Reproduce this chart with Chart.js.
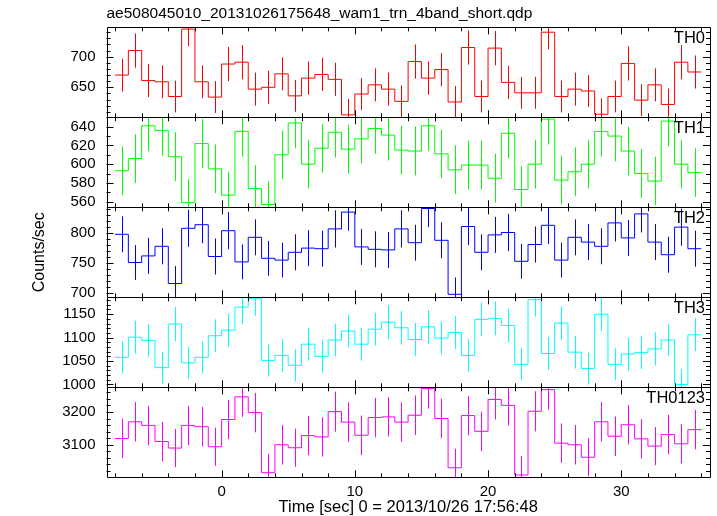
<!DOCTYPE html>
<html><head><meta charset="utf-8">
<script src="https://cdn.jsdelivr.net/npm/chart.js@4.4.1/dist/chart.umd.min.js"></script>
<style>html,body{margin:0;padding:0;background:#fff;}#wrap{width:717px;height:516px;position:relative;}</style>
</head><body><div id="wrap"><canvas id="c" width="717" height="516"></canvas></div>
<script>
// ---- data ----
const timeCenters = [-7.5,-6.5,-5.5,-4.5,-3.5,-2.5,-1.5,-0.5,0.5,1.5,2.5,3.5,4.5,5.5,6.5,7.5,8.5,9.5,10.5,11.5,12.5,13.5,14.5,15.5,16.5,17.5,18.5,19.5,20.5,21.5,22.5,23.5,24.5,25.5,26.5,27.5,28.5,29.5,30.5,31.5,32.5,33.5,34.5,35.5];
const binHalfWidth = 0.5;
const th0 = [670,710,661,659,635,745,659,634,688,691,647,650,672,636,665,671,663,605,639,654,647,627,692,665,679,626,715,635,714,658,641,641,740,635,647,644,606,635,689,629,654,622,691,675];
const th0Err = [27,28,27,27,26,28,27,26,28,28,27,27,27,26,27,27,27,26,26,27,27,26,28,27,27,26,28,26,28,27,26,26,28,26,27,26,26,26,28,26,27,26,28,27];
const th1 = [593,606,641,636,608,559,622,595,567,635,574,557,610,644,600,617,634,616,627,638,631,615,614,641,611,594,599,599,585,633,573,600,648,583,592,600,635,630,614,590,582,646,600,591];
const th1Err = [26,26,27,27,26,25,26,26,25,27,25,25,26,27,26,26,27,26,26,27,27,26,26,27,26,26,26,26,26,27,25,26,27,26,26,26,27,27,26,26,26,27,26,26];
const th2 = [798,751,762,778,716,808,814,761,804,752,793,758,755,768,775,774,807,835,777,773,772,807,784,841,788,698,811,768,797,801,753,781,813,755,793,785,778,817,792,832,785,764,810,774];
const th2Err = [30,29,30,30,29,31,31,30,31,29,30,29,29,30,30,30,31,31,30,30,30,31,30,31,30,28,31,30,30,31,29,30,31,29,30,30,30,31,30,31,30,30,31,30];
const th3 = [1058,1101,1094,1036,1129,1046,1058,1104,1116,1165,1183,1051,1062,1041,1086,1060,1095,1114,1086,1118,1133,1121,1096,1123,1099,1111,1062,1139,1141,1126,1043,1181,1066,1131,1069,1034,1150,1043,1065,1068,1076,1095,1000,1106];
const th3Err = [34,35,35,34,36,34,34,35,35,36,36,34,35,34,35,35,35,35,35,35,36,36,35,36,35,35,35,36,36,36,34,36,35,36,35,34,36,34,35,35,35,35,33,35];
const th0123 = [3119,3170,3159,3110,3090,3159,3155,3094,3177,3246,3198,3015,3100,3091,3128,3124,3201,3169,3129,3183,3185,3169,3190,3271,3180,3030,3189,3141,3238,3220,3008,3202,3268,3105,3100,3062,3170,3126,3161,3118,3096,3131,3103,3146];
const th0123Err = [60,60,60,60,58,60,60,58,60,61,60,58,60,58,60,60,61,60,60,60,60,60,60,61,60,58,60,60,61,61,58,61,61,60,60,58,60,60,60,60,58,60,60,60];
const panelNames = ['TH0','TH1','TH2','TH3','TH0123'];
const xTickLabels = [0,10,20,30];
const th0Ticks = [650,700];
const th1Ticks = [560,580,600,620,640];
const th2Ticks = [700,750,800];
const th3Ticks = [1000,1050,1100,1150];
const th0123Ticks = [3100,3200];

// ---- styling / layout ----
const FONT = 'Liberation Sans, Arial, Helvetica, sans-serif';
const panels = [
  {id:'y0', values:th0, errors:th0Err, ticks:th0Ticks, color:'#ff0000', min:601, max:748, major:50, minor:10},
  {id:'y1', values:th1, errors:th1Err, ticks:th1Ticks, color:'#00ff00', min:554, max:650, major:20, minor:10},
  {id:'y2', values:th2, errors:th2Err, ticks:th2Ticks, color:'#0000ff', min:693, max:843, major:50, minor:10},
  {id:'y3', values:th3, errors:th3Err, ticks:th3Ticks, color:'#00ffff', min:994, max:1186, major:50, minor:10},
  {id:'y4', values:th0123, errors:th0123Err, ticks:th0123Ticks, color:'#ff00ff', min:3001, max:3275, major:100, minor:20}
];
const X_MIN = -8.64, X_MAX = 36.66;

function stepData(values){
  const pts = timeCenters.map((t,i)=>({x:t-binHalfWidth, y:values[i]}));
  const n = timeCenters.length-1;
  pts.push({x:timeCenters[n]+binHalfWidth, y:values[n]});
  return pts;
}

const datasets = panels.map((p,i)=>({
  label: panelNames[i], data: stepData(p.values), yAxisID: p.id, xAxisID:'x',
  borderColor: p.color, backgroundColor: p.color, borderWidth: 1, pointRadius: 0,
  stepped: 'before', fill: false, tension: 0, errors: p.errors, values: p.values
}));

const scales = {
  x: {type:'linear', position:'bottom', min:X_MIN, max:X_MAX,
      afterBuildTicks: s => { s.ticks = xTickLabels.map(v=>({value:v})); },
      grid:{display:false, drawTicks:false}, border:{display:false},
      ticks:{color:'#000', font:{family:FONT, size:15}, padding:6, maxRotation:0, autoSkip:false, callback:v=>String(v)},
      title:{display:true, text:'Time [sec] 0 = 2013/10/26 17:56:48', color:'#000', font:{family:FONT, size:16.5, lineHeight:1}, padding:{top:0,bottom:0}},
      afterFit: s => { s.height = 38.7; }
  }
};
panels.forEach((p,i)=>{
  scales[p.id] = {
    type:'linear', position:'left', stack:'panels', stackWeight:1, weight: 5-i,
    min:p.min, max:p.max,
    afterBuildTicks: s => { s.ticks = p.ticks.map(v=>({value:v})); },
    grid:{display:false, drawTicks:false}, border:{display:false},
    ticks:{autoSkip:false, color:'#000', font:{family:FONT, size:15}, padding:11, callback:v=>String(v)},
    title: i===2 ? {display:true, text:'Counts/sec', color:'#000', font:{family:FONT, size:16}, padding:{top:30,bottom:0}} : {display:false},
    afterFit: s => { s.width = 106.5; }
  };
});

const decor = {
  id:'decor',
  afterDatasetsDraw(chart){
    const ctx = chart.ctx, xs = chart.scales.x;
    chart.data.datasets.forEach(ds=>{
      const ys = chart.scales[ds.yAxisID];
      ctx.save();
      ctx.beginPath(); ctx.rect(xs.left, ys.top, xs.right-xs.left, ys.bottom-ys.top); ctx.clip();
      ctx.strokeStyle = ds.borderColor; ctx.lineWidth = 1;
      ctx.beginPath();
      timeCenters.forEach((t,k)=>{
        const x = Math.round(xs.getPixelForValue(t))+0.5;
        ctx.moveTo(x, ys.getPixelForValue(ds.values[k]-ds.errors[k]));
        ctx.lineTo(x, ys.getPixelForValue(ds.values[k]+ds.errors[k]));
      });
      ctx.stroke();
      ctx.restore();
    });
  },
  afterDraw(chart){
    const ctx = chart.ctx, xs = chart.scales.x;
    ctx.save();
    ctx.strokeStyle = '#000'; ctx.lineWidth = 1;
    panels.forEach((p,i)=>{
      const ys = chart.scales[p.id];
      const L = xs.left, R = xs.right, T = ys.top, B = ys.bottom;
      ctx.beginPath();
      ctx.rect(Math.round(L)+0.5, Math.round(T)+0.5, Math.round(R)-Math.round(L), Math.round(B)-Math.round(T));
      for (let t = -8; t <= 36; t += 2){
        const x = Math.round(xs.getPixelForValue(t))+0.5;
        const len = (t % 10 === 0) ? 7 : 4;
        ctx.moveTo(x, T); ctx.lineTo(x, T+len);
        ctx.moveTo(x, B); ctx.lineTo(x, B-len);
      }
      const start = Math.ceil(p.min/p.minor)*p.minor;
      for (let v = start; v <= p.max; v += p.minor){
        const y = Math.round(ys.getPixelForValue(v))+0.5;
        const len = (v % p.major === 0) ? 7 : 4;
        ctx.moveTo(L, y); ctx.lineTo(L+len, y);
        ctx.moveTo(R, y); ctx.lineTo(R-len, y);
      }
      ctx.stroke();
      ctx.fillStyle = '#000';
      ctx.font = '16.5px ' + FONT;
      ctx.textAlign = 'right'; ctx.textBaseline = 'top';
      ctx.fillText(panelNames[i], R-5, T+3);
    });
    ctx.restore();
  }
};

new Chart(document.getElementById('c'), {
  type:'line',
  data:{datasets},
  options:{
    responsive:false, animation:false, devicePixelRatio:1,
    layout:{padding:{left:0,right:7,top:0,bottom:0}},
    scales,
    plugins:{
      legend:{display:false}, tooltip:{enabled:false},
      title:{display:true, text:'ae508045010_20131026175648_wam1_trn_4band_short.qdp', align:'start', fullSize:false,
             color:'#000', font:{family:FONT, size:15.5, weight:'normal'}, padding:{top:4.5,bottom:4.2}}
    }
  },
  plugins:[decor]
});
</script></body></html>
